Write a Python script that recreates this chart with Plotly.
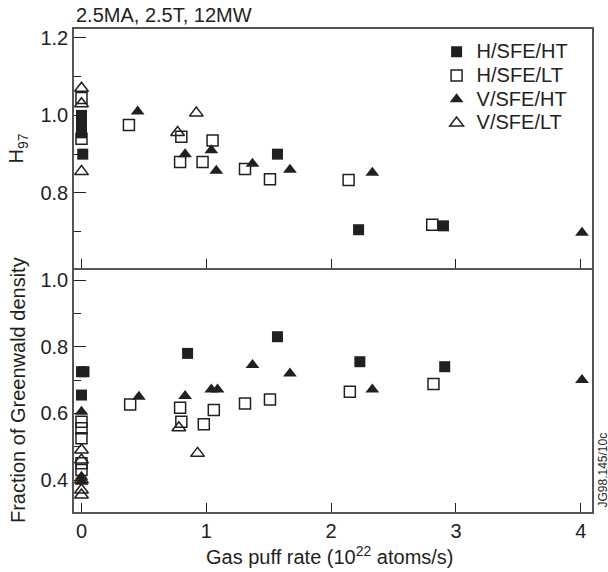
import plotly.graph_objects as go
from plotly.subplots import make_subplots

# ---- data: upper panel (H97) ----
h_ht_x_top = [0, 0, 0, 0, 0.01, 1.57, 2.22, 2.90]
h_ht_y_top = [1.00, 0.985, 0.97, 0.955, 0.90, 0.90, 0.705, 0.715]
h_lt_x_top = [0, 0, 0.38, 0.80, 0.79, 1.05, 0.97, 1.31, 1.51, 2.14, 2.81]
h_lt_y_top = [1.045, 0.94, 0.975, 0.945, 0.88, 0.935, 0.88, 0.862, 0.835, 0.833, 0.718]
v_ht_x_top = [0.45, 0.83, 1.04, 1.08, 1.37, 1.67, 2.33, 4.01]
v_ht_y_top = [1.01, 0.90, 0.91, 0.857, 0.875, 0.86, 0.852, 0.697]
v_lt_x_top = [0, 0, 0, 0.77, 0.92]
v_lt_y_top = [1.07, 1.03, 0.855, 0.956, 1.006]

# ---- data: lower panel (Fraction of Greenwald density) ----
h_ht_x_bot = [0, 0.02, 0, 0.85, 1.57, 2.23, 2.91]
h_ht_y_bot = [0.725, 0.725, 0.655, 0.78, 0.83, 0.755, 0.74]
h_lt_x_bot = [0, 0, 0, 0, 0, 0.39, 0.79, 0.80, 0.98, 1.06, 1.31, 1.51, 2.15, 2.82]
h_lt_y_bot = [0.575, 0.555, 0.525, 0.45, 0.43, 0.627, 0.617, 0.575, 0.567, 0.61, 0.63, 0.642, 0.665, 0.688]
v_ht_x_bot = [0, 0, 0, 0.46, 0.83, 1.04, 1.09, 1.37, 1.67, 2.33, 4.01]
v_ht_y_bot = [0.605, 0.41, 0.395, 0.65, 0.652, 0.672, 0.672, 0.745, 0.72, 0.672, 0.70]
v_lt_x_bot = [0, 0, 0, 0, 0, 0.78, 0.93]
v_lt_y_bot = [0.49, 0.46, 0.40, 0.37, 0.355, 0.557, 0.48]

series_names = ["H/SFE/HT", "H/SFE/LT", "V/SFE/HT", "V/SFE/LT"]
x_tick_vals = [0, 1, 2, 3, 4]
top_y_ticks = [0.8, 1.0, 1.2]
bot_y_ticks = [0.4, 0.6, 0.8, 1.0]

INK = "#231f20"
AXC = "#555555"
FONT = "Liberation Sans, Arial, sans-serif"
FS = 20

styles = [
    dict(symbol="square", size=11, color=INK, line=dict(width=0)),
    dict(symbol="square-open", size=11, color=INK, line=dict(width=1.5)),
    dict(symbol="triangle-up", size=12, color=INK, line=dict(width=0)),
    dict(symbol="triangle-up-open", size=12, color=INK, line=dict(width=1.5)),
]

top_data = [(h_ht_x_top, h_ht_y_top), (h_lt_x_top, h_lt_y_top),
            (v_ht_x_top, v_ht_y_top), (v_lt_x_top, v_lt_y_top)]
bot_data = [(h_ht_x_bot, h_ht_y_bot), (h_lt_x_bot, h_lt_y_bot),
            (v_ht_x_bot, v_ht_y_bot), (v_lt_x_bot, v_lt_y_bot)]

TOP_DOM = 0.505
fig = make_subplots(rows=2, cols=1, shared_xaxes=True, vertical_spacing=0,
                    row_heights=[1 - TOP_DOM, TOP_DOM])

for name, st, (x, y) in zip(series_names, styles, top_data):
    fig.add_trace(go.Scatter(x=x, y=y, mode="markers",
                             name=f'<span style="font-size:{FS}px">{name}</span>',
                             marker=st, showlegend=True, cliponaxis=False), row=1, col=1)
for name, st, (x, y) in zip(series_names, styles, bot_data):
    fig.add_trace(go.Scatter(x=x, y=y, mode="markers", name=name, marker=st,
                             showlegend=False, cliponaxis=False), row=2, col=1)

axis_common = dict(showline=True, linecolor=AXC, linewidth=1.5, automargin=False,
                   showgrid=False, zeroline=False, ticks="inside",
                   tickcolor=INK, tickwidth=1, tickfont=dict(size=FS, color=INK, family=FONT))

fig.update_xaxes(**axis_common, range=[-0.06, 4.09], tickvals=x_tick_vals, ticklen=9)
fig.update_xaxes(showticklabels=False, mirror=True, row=1, col=1)
fig.update_xaxes(mirror=False, row=2, col=1)

fig.update_yaxes(**axis_common, mirror=True, ticklen=12,
                 minor=dict(ticks="inside", ticklen=7, tickcolor=INK, dtick=0.1))
fig.update_yaxes(range=[0.606, 1.223], tickvals=top_y_ticks, ticktext=["0.8", "1.0", "1.2"],
                 minor=dict(tick0=0.6, dtick=0.1), row=1, col=1)
fig.update_yaxes(range=[0.304, 1.036], tickvals=bot_y_ticks, ticktext=["0.4", "0.6", "0.8", "1.0"],
                 minor=dict(tick0=0.3, dtick=0.1), row=2, col=1)

title_font = dict(size=FS, color=INK, family=FONT)
fig.update_layout(
    width=608, height=572,
    margin=dict(l=74, r=16, t=29, b=60),
    paper_bgcolor="white", plot_bgcolor="white",
    font=dict(family=FONT, color=INK, size=FS),
    legend=dict(x=0.7, y=0.988, xanchor="left", yanchor="top",
                bgcolor="rgba(0,0,0,0)", font=dict(size=16, color=INK, family=FONT),
                tracegroupgap=0, itemsizing="trace"),
    annotations=[
        dict(text="2.5MA, 2.5T, 12MW", xref="paper", yref="paper", x=0, y=1,
             xanchor="left", yanchor="bottom", yshift=1, showarrow=False, font=title_font),
        dict(text="H<sub>97</sub>", xref="paper", yref="paper", x=0, y=(1 + TOP_DOM) / 2,
             xanchor="center", yanchor="middle", xshift=-56, textangle=-90,
             showarrow=False, font=title_font),
        dict(text="Fraction of Greenwald density", xref="paper", yref="paper", x=0, y=TOP_DOM / 2,
             xanchor="center", yanchor="middle", xshift=-56, textangle=-90,
             showarrow=False, font=title_font),
        dict(text="Gas puff rate (10<sup>22</sup> atoms/s)", xref="paper", yref="paper",
             x=0.5, y=0, xanchor="center", yanchor="middle", xshift=-3, yshift=-43,
             showarrow=False, font=title_font),
        dict(text="JG98.145/10c", xref="paper", yref="paper", x=1, y=0.0,
             xanchor="left", yanchor="bottom", xshift=1, yshift=2, textangle=-90,
             showarrow=False, font=dict(size=12, color=INK, family=FONT)),
    ],
)

fig.write_html("out.html")
